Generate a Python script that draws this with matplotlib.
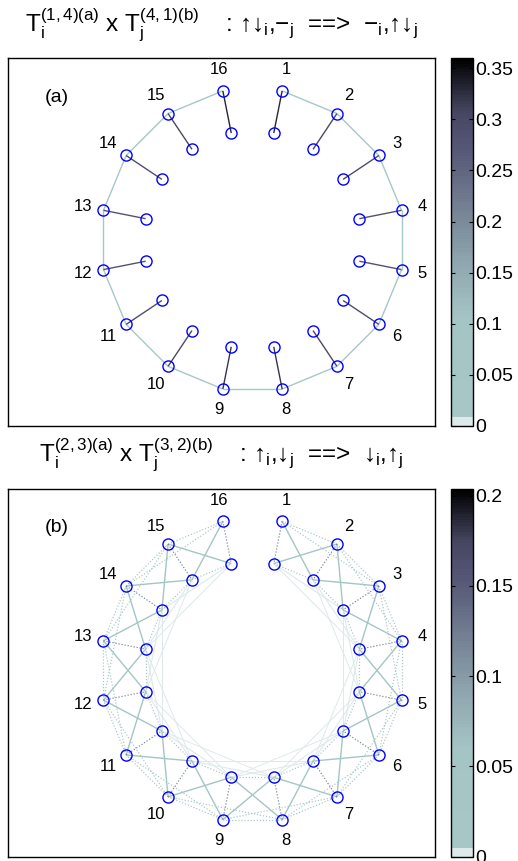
import matplotlib
matplotlib.use('Agg')
import matplotlib.pyplot as plt
import numpy as np
from matplotlib.colors import ListedColormap, Normalize
from matplotlib.cm import ScalarMappable

plt.rcParams['font.family'] = ['Liberation Sans', 'DejaVu Sans']
plt.rcParams['mathtext.fontset'] = 'custom'
plt.rcParams['mathtext.rm'] = 'Liberation Sans'
plt.rcParams['mathtext.it'] = 'Liberation Sans'
plt.rcParams['mathtext.default'] = 'regular'

# chain sites, 1..16 (open chain drawn on a circle)
sites = list(range(1, 17))

# ---- panel (a): T(1,4)(a) x T(4,1)(b) ----
title_a = r'$T_i^{(1,4)(a)}$ x $T_j^{(4,1)(b)}$    : ↑↓$_i$,−$_j$  ==>  −$_i$,↑↓$_j$'
onsite_a = [0.33, 0.30, 0.29, 0.28, 0.28, 0.29, 0.30, 0.32,
            0.32, 0.30, 0.29, 0.28, 0.28, 0.29, 0.30, 0.33]          # outer k - inner k
ring_a = [0.03, 0.03, 0.03, 0.03, 0.03, 0.03, 0.03, 0.03,
          0.03, 0.03, 0.03, 0.03, 0.03, 0.03, 0.03]                  # outer k - outer k+1
vmax_a = 0.36
ticks_a = [0, 0.05, 0.1, 0.15, 0.2, 0.25, 0.3, 0.35]

# ---- panel (b): T(2,3)(a) x T(3,2)(b) ----
title_b = r'$T_i^{(2,3)(a)}$ x $T_j^{(3,2)(b)}$    : ↑$_i$,↓$_j$  ==>  ↓$_i$,↑$_j$'
onsite_b = [0.12, 0.12, 0.12, 0.12, 0.12, 0.12, 0.12, 0.12,
            0.12, 0.12, 0.12, 0.12, 0.12, 0.12, 0.12, 0.12]          # outer k - inner k (dotted)
cross_oi_b = [0.06, 0.06, 0.06, 0.06, 0.06, 0.06, 0.06, 0.06,
              0.06, 0.06, 0.06, 0.06, 0.06, 0.06, 0.06]              # outer k - inner k+1
cross_io_b = [0.06, 0.06, 0.06, 0.06, 0.06, 0.06, 0.06, 0.06,
              0.06, 0.06, 0.06, 0.06, 0.06, 0.06, 0.06]              # inner k - outer k+1
outer_nn_b = [0.03, 0.03, 0.03, 0.03, 0.03, 0.03, 0.03, 0.03,
              0.03, 0.03, 0.03, 0.03, 0.03, 0.03, 0.03]              # dotted
outer_nnn_b = [0.02, 0.02, 0.02, 0.02, 0.02, 0.02, 0.02,
               0.02, 0.02, 0.02, 0.02, 0.02, 0.02, 0.02]             # dotted
inner_nn_b = [0.025, 0.025, 0.025, 0.025, 0.025, 0.025, 0.025, 0.025,
              0.025, 0.025, 0.025, 0.025, 0.025, 0.025, 0.025]       # dotted
inner_nnn_b = [0.002, 0.002, 0.002, 0.002, 0.002, 0.002, 0.002,
               0.002, 0.002, 0.002, 0.002, 0.002, 0.002, 0.002]      # solid, faint
inner_n3_b = [0.001, 0.001, 0.001, 0.001, 0.001, 0.001, 0.001,
              0.001, 0.001, 0.001, 0.001, 0.001, 0.001]              # solid, faint
vmax_b = 0.204
ticks_b = [0, 0.05, 0.1, 0.15, 0.2]

# colormap: reversed, compressed 'bone' with a pale lowest bin
bone = plt.get_cmap('bone')
tk = [0.0, 0.02, 0.29, 0.43, 0.57, 0.71, 0.86, 1.0]
xk = [0.75, 0.75, 0.74, 0.65, 0.54, 0.42, 0.31, 0.0]
cols = bone(np.interp(np.linspace(0, 1, 128), tk, xk))
cols[:3] = (0.87, 0.915, 0.915, 1.0)
cmap = ListedColormap(cols)

R_OUT, R_IN, R_LAB = 1.0, 0.717, 1.14
ang = np.deg2rad(11.25 + 22.5 * np.arange(16))


def xy(r, k):
    return r * np.sin(ang[k]), r * np.cos(ang[k])


def draw_panel(ax, cax, edges, vmax, ticks, tag):
    norm = Normalize(0, vmax)
    for v, r1, k1, r2, k2, ls, lw in sorted(edges, key=lambda e: e[0]):
        x1, y1 = xy(r1, k1)
        x2, y2 = xy(r2, k2)
        ax.plot([x1, x2], [y1, y2], color=cmap(norm(v)), ls=ls, lw=lw,
                solid_capstyle='butt', zorder=2)
    xo, yo = xy(R_OUT, np.arange(16))
    xi, yi = xy(R_IN, np.arange(16))
    ax.plot(xo, yo, 'o', mfc='none', mec='#0000ff', ms=8, mew=1.0, ls='none', zorder=3)
    ax.plot(xi, yi, 'o', mfc='none', mec='#0000ff', ms=8, mew=1.0, ls='none', zorder=3)
    xl, yl = xy(R_LAB, np.arange(16))
    for k, s in enumerate(sites):
        ax.text(xl[k], yl[k], str(s), ha='center', va='center', fontsize=12)
    ax.text(-1.285, 0.94, tag, ha='center', va='center', fontsize=14)
    ax.set_xlim(-1.609, 1.201)
    ax.set_ylim(-1.224, 1.197)
    ax.set_xticks([])
    ax.set_yticks([])
    for sp in ax.spines.values():
        sp.set_linewidth(1.0)
    cb = plt.colorbar(ScalarMappable(norm=norm, cmap=cmap), cax=cax)
    cb.set_ticks(ticks)
    cb.ax.set_yticklabels([('%g' % t) for t in ticks])
    cb.outline.set_linewidth(1.0)
    cax.tick_params(direction='in', left=True, right=True, length=3, width=0.8,
                    labelsize=14, pad=2)


fig = plt.figure(figsize=(5.18, 8.61), dpi=100)
W, H = 518.0, 861.0
ax_a = fig.add_axes([8 / W, 1 - 426 / H, 427 / W, 368 / H])
cax_a = fig.add_axes([451 / W, 1 - 426 / H, 21.5 / W, 368 / H])
ax_b = fig.add_axes([8 / W, 1 - 856.5 / H, 427 / W, 368 / H])
cax_b = fig.add_axes([451 / W, 1 - 856.5 / H, 21.5 / W, 368 / H])

O, I = R_OUT, R_IN
edges_a = []
for k in range(16):
    edges_a.append((onsite_a[k], O, k, I, k, '-', 1.0))
for k in range(15):
    edges_a.append((ring_a[k], O, k, O, k + 1, '-', 1.0))

dot = (0, (1, 1.6))
edges_b = []
for k in range(16):
    edges_b.append((onsite_b[k], O, k, I, k, dot, 0.85))
for k in range(15):
    edges_b.append((cross_oi_b[k], O, k, I, k + 1, '-', 1.0))
    edges_b.append((cross_io_b[k], I, k, O, k + 1, '-', 1.0))
    edges_b.append((outer_nn_b[k], O, k, O, k + 1, dot, 0.85))
    edges_b.append((inner_nn_b[k], I, k, I, k + 1, dot, 0.85))
for k in range(14):
    edges_b.append((outer_nnn_b[k], O, k, O, k + 2, dot, 0.85))
    edges_b.append((inner_nnn_b[k], I, k, I, k + 2, '-', 0.8))
for k in range(13):
    edges_b.append((inner_n3_b[k], I, k, I, k + 3, '-', 0.7))

draw_panel(ax_a, cax_a, edges_a, vmax_a, ticks_a, '(a)')
draw_panel(ax_b, cax_b, edges_b, vmax_b, ticks_b, '(b)')

fig.text(221.5 / W, 1 - 32 / H, title_a, ha='center', va='baseline', fontsize=17.5)
fig.text(221.5 / W, 1 - 462 / H, title_b, ha='center', va='baseline', fontsize=17.5)

fig.savefig('out.png', dpi=100)
